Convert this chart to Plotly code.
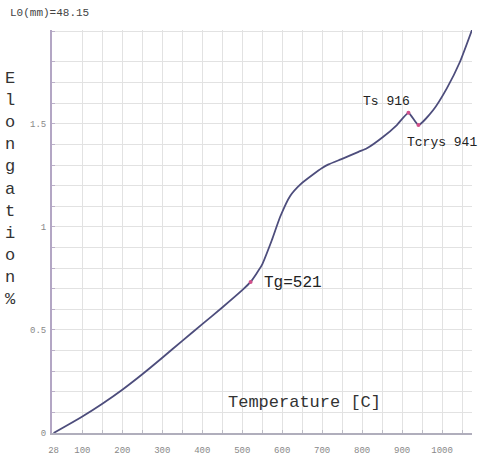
import plotly.graph_objects as go

# Dilatometer curve
temperature = [28, 60, 100, 150, 200, 250, 300, 350, 400, 450, 500, 521, 549, 574, 595,
               620, 645, 678, 700, 716, 753, 791, 812, 853, 887, 916, 941, 978, 1012,
               1045, 1075]
elongation = [0.0, 0.035, 0.08, 0.142, 0.21, 0.285, 0.365, 0.447, 0.528, 0.609, 0.693, 0.733,
              0.814, 0.935, 1.049, 1.15, 1.205, 1.255, 1.285, 1.303, 1.332, 1.364, 1.381,
              1.437, 1.494, 1.553, 1.494, 1.567, 1.672, 1.801, 1.955]

point_temps = [521, 916, 941]
point_elong = [0.733, 1.553, 1.494]
point_labels = ["Tg=521", "Ts 916", "Tcrys 941"]

x_tick_vals = [28, 100, 200, 300, 400, 500, 600, 700, 800, 900, 1000]
x_tick_text = ["28", "100", "200", "300", "400", "500", "600", "700", "800", "900", "1000"]
x_grid_vals = [100 + 50 * i for i in range(20)]
y_tick_vals = [0, 0.5, 1, 1.5]
y_tick_text = ["0", "0.5", "1", "1.5"]
y_grid_vals = [round(0.1 * i, 1) for i in range(1, 19)] + [1.95]

MONO = "Liberation Mono, DejaVu Sans Mono, monospace"

fig = go.Figure()
fig.add_trace(go.Scatter(
    x=temperature, y=elongation, mode="lines",
    line=dict(color="#4d4d7c", width=1.8, shape="spline", smoothing=0.5),
    hoverinfo="skip", showlegend=False))
fig.add_trace(go.Scatter(
    x=point_temps, y=point_elong, mode="markers",
    marker=dict(color="#d0508a", size=4),
    showlegend=False))

# point labels
fig.add_annotation(x=point_temps[0], y=point_elong[0], text=point_labels[0],
                   showarrow=False, xanchor="left", yanchor="middle", xshift=11, yshift=-1,
                   font=dict(family=MONO, size=16, color="#222"))
fig.add_annotation(x=point_temps[1], y=point_elong[1], text=point_labels[1],
                   showarrow=False, xanchor="right", yanchor="bottom", xshift=4, yshift=2,
                   font=dict(family=MONO, size=13, color="#222"))
fig.add_annotation(x=point_temps[2], y=point_elong[2], text=point_labels[2],
                   showarrow=False, xanchor="left", yanchor="top", xshift=-13, yshift=-8,
                   font=dict(family=MONO, size=13, color="#222"))

# titles
fig.add_annotation(x=0.602, y=0.076, xref="paper", yref="paper", text="Temperature [C]",
                   showarrow=False, xanchor="center", yanchor="middle",
                   font=dict(family=MONO, size=17, color="#333"))
fig.add_annotation(x=-0.099, y=0.606, xref="paper", yref="paper",
                   text="<br>".join(list("Elongation%")),
                   showarrow=False, xanchor="center", yanchor="middle",
                   font=dict(family=MONO, size=17, color="#333"))
fig.add_annotation(x=-0.104, y=1.042, xref="paper", yref="paper", text="L0(mm)=48.15",
                   showarrow=False, xanchor="left", yanchor="middle",
                   font=dict(family=MONO, size=11, color="#444"))

fig.update_layout(
    width=480, height=458,
    margin=dict(l=52, r=8, t=30, b=25, autoexpand=False),
    paper_bgcolor="white", plot_bgcolor="white",
    xaxis=dict(range=[24, 1075], tickmode="array", tickvals=x_tick_vals, ticktext=x_tick_text,
               automargin=False,
               showgrid=False, zeroline=False, showline=True, linecolor="#b0aebc", linewidth=2,
               ticks="", ticklabelstandoff=7,
               tickfont=dict(family=MONO, size=9, color="#888"),
               minor=dict(tickmode="array", tickvals=x_grid_vals, showgrid=True,
                          gridcolor="#e2e2e2", gridwidth=1, ticks="inside", ticklen=3,
                          tickcolor="#bbbbc4")),
    yaxis=dict(range=[0, 1.955], tickmode="array", tickvals=y_tick_vals, ticktext=y_tick_text,
               automargin=False,
               showgrid=False, zeroline=False, showline=True, linecolor="#b3a6c4", linewidth=2,
               ticks="", ticklabelstandoff=2,
               tickfont=dict(family=MONO, size=9, color="#888"),
               minor=dict(tickmode="array", tickvals=y_grid_vals, showgrid=True,
                          gridcolor="#e2e2e2", gridwidth=1, ticks="inside", ticklen=3,
                          tickcolor="#bbb0c8")),
)

fig.write_html("out.html")
